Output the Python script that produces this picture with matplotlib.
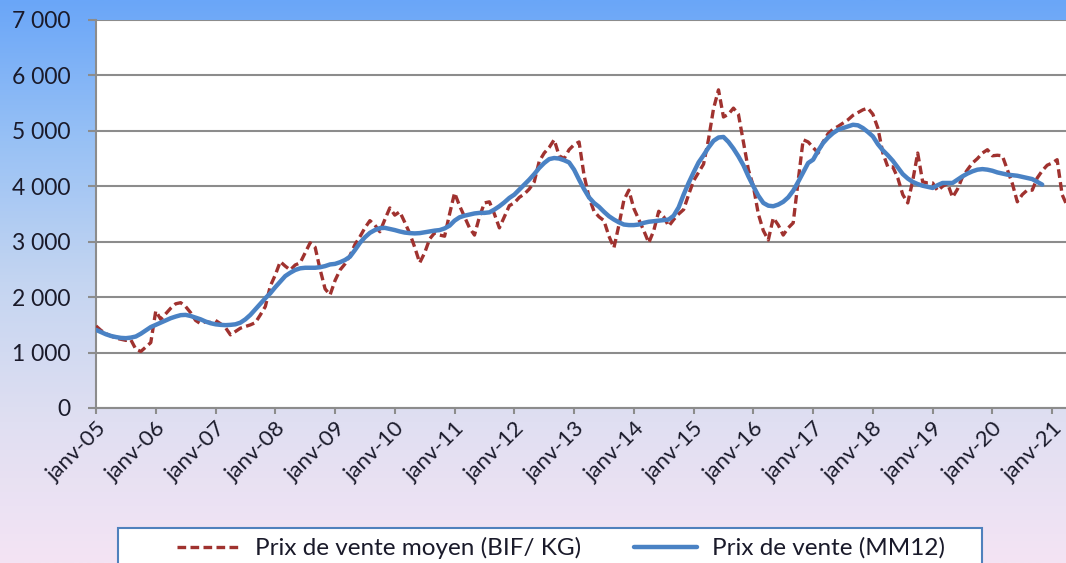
import numpy as np
import matplotlib
matplotlib.use("Agg")
import matplotlib.pyplot as plt
from matplotlib.colors import LinearSegmentedColormap
from matplotlib.patches import Rectangle
from matplotlib.ticker import FuncFormatter

plt.rcParams['font.family'] = ['Lato', 'DejaVu Sans']

# monthly average selling price (BIF/KG), janv-05 onward
prix_moyen = [
    1480, 1400, 1340, 1300, 1260, 1240, 1220, 1230, 1060, 1020, 1100, 1180,   # 2005
    1750, 1600, 1700, 1800, 1880, 1900, 1830, 1720, 1580, 1520, 1560, 1540,   # 2006
    1580, 1520, 1450, 1320, 1380, 1440, 1470, 1500, 1540, 1680, 1830, 2200,   # 2007
    2400, 2640, 2560, 2490, 2580, 2620, 2800, 2980, 2900, 2500, 2150, 2040,   # 2008
    2300, 2490, 2600, 2750, 2950, 3090, 3250, 3380, 3300, 3180, 3400, 3610,   # 2009
    3480, 3540, 3350, 3150, 2900, 2620, 2800, 3050, 3160, 3120, 3100, 3500,   # 2010
    3880, 3650, 3450, 3250, 3120, 3450, 3700, 3720, 3500, 3250, 3450, 3650,   # 2011
    3700, 3800, 3860, 3950, 4080, 4450, 4600, 4700, 4840, 4550, 4500, 4660,   # 2012
    4750, 4800, 4200, 3800, 3550, 3450, 3380, 3100, 2890, 3300, 3750, 3930,   # 2013
    3600, 3400, 3200, 2980, 3200, 3550, 3450, 3280, 3400, 3500, 3580, 3850,   # 2014
    4100, 4250, 4400, 4850, 5400, 5740, 5250, 5300, 5410, 5300, 4800, 4300,   # 2015
    4000, 3500, 3200, 3030, 3430, 3300, 3120, 3250, 3340, 4100, 4840, 4800,   # 2016
    4700, 4600, 4800, 4950, 5030, 5080, 5140, 5200, 5280, 5330, 5380, 5410,   # 2017
    5300, 5050, 4600, 4350, 4350, 4150, 3850, 3700, 4100, 4600, 4080, 4060,   # 2018
    4060, 3920, 4000, 4050, 3800, 3950, 4170, 4300, 4420, 4500, 4600, 4660,   # 2019
    4550, 4560, 4550, 4300, 4050, 3720, 3850, 3930, 3930, 4150, 4280, 4380,   # 2020
    4420, 4480, 3850, 3650,                                                   # 2021
]

# 12-month moving average
prix_mm12 = [
    1410, 1370, 1330, 1300, 1280, 1265, 1260, 1270, 1290, 1340, 1400, 1460,
    1500, 1540, 1580, 1620, 1650, 1675, 1680, 1660, 1630, 1600, 1560, 1530,
    1510, 1500, 1495, 1500, 1510, 1540, 1600, 1680, 1780, 1880, 1980, 2070,
    2180, 2280, 2380, 2440, 2490, 2520, 2530, 2530, 2530, 2540, 2560, 2590,
    2600, 2630, 2670, 2730, 2850, 2980, 3080, 3160, 3210, 3245, 3250, 3230,
    3210, 3185, 3165, 3155, 3150, 3155, 3170, 3185, 3200, 3210, 3240, 3290,
    3380, 3440, 3470, 3490, 3510, 3520, 3520, 3530, 3580, 3640, 3710, 3790,
    3850, 3940, 4030, 4120, 4220, 4330, 4420, 4490, 4510, 4500, 4470, 4430,
    4300, 4120, 3950, 3800, 3700, 3630, 3540, 3460, 3400, 3350, 3310, 3300,
    3300, 3310, 3340, 3360, 3370, 3380, 3390, 3400, 3470, 3620, 3850, 4060,
    4250, 4430, 4560, 4700, 4820, 4880, 4890, 4800, 4680, 4540, 4380, 4180,
    4000, 3830, 3700, 3650, 3640, 3670, 3720, 3800, 3920, 4080, 4250, 4420,
    4480, 4640, 4780, 4880, 4960, 5020, 5050, 5080, 5110, 5100, 5050, 4980,
    4900, 4760, 4650, 4560, 4460, 4340, 4220, 4140, 4080, 4040, 4010, 3990,
    3970, 4020, 4060, 4060, 4060, 4120, 4180, 4230, 4270, 4300, 4310, 4300,
    4280, 4250, 4230, 4210, 4200, 4190, 4170, 4150, 4130, 4080, 4030,
]

annees = ['janv-%02d' % a for a in range(5, 22)]

W, H = 1066, 563
fig = plt.figure(figsize=(W / 100, H / 100), dpi=100)

# background gradient (blue top -> lavender bottom)
bg = fig.add_axes([0, 0, 1, 1], zorder=-10)
cmap = LinearSegmentedColormap.from_list('fond', [
    (0.0, '#6aa6f8'), (0.25, '#98c1f5'), (0.5, '#c4d5f1'),
    (0.75, '#e0dff2'), (1.0, '#f4e4f4')])
bg.imshow(np.linspace(0, 1, 256).reshape(-1, 1), aspect='auto', cmap=cmap,
          extent=[0, 1, 0, 1], origin='upper')
bg.set_axis_off()

ax = fig.add_axes([96 / W, (H - 408) / H, (W - 96) / W, 388 / H])
ax.set_facecolor('white')

mois = np.arange(len(prix_moyen))
ax.plot(mois, prix_moyen, color='#a0322f', lw=2.4, ls=(0, (2.6, 1.3)),
        label='Prix de vente moyen (BIF/ KG)', zorder=3)
ax.plot(np.arange(len(prix_mm12)), prix_mm12, color='#4a82c4', lw=3.2,
        solid_capstyle='round', label='Prix de vente (MM12)', zorder=4)

ax.set_xlim(0, (W - 96) / 4.98)
ax.set_ylim(0, 7000)
ax.set_yticks(range(0, 7001, 1000))
ax.yaxis.set_major_formatter(FuncFormatter(lambda v, p: f'{int(v):,}'.replace(',', ' ')))
ax.set_xticks(np.arange(0, 12 * len(annees), 12))
ax.set_xticklabels(annees, rotation=45, ha='right', va='top', rotation_mode='anchor')

ax.grid(axis='y', color='#8c8c8c', lw=1.5)
ax.set_axisbelow(True)
for s in ['top', 'right']:
    ax.spines[s].set_visible(False)
for s in ['left', 'bottom']:
    ax.spines[s].set_color('#8c8c8c')
    ax.spines[s].set_linewidth(1.5)
ax.tick_params(axis='y', length=6, width=1.5, color='#8c8c8c', pad=12,
               labelsize=16.5, labelcolor='#1a1a2a')
ax.tick_params(axis='x', length=4, width=1.5, color='#8c8c8c', pad=3,
               labelsize=16, labelcolor='#1a1a2a')

# legend box
fig.patches.append(Rectangle((118 / W, -0.05), (982 - 118) / W, (563 - 528) / H + 0.05,
                             transform=fig.transFigure, facecolor='white',
                             edgecolor='#4f81bd', lw=1.5, zorder=5))
leg = fig.legend(loc='center', bbox_to_anchor=(561 / W, (563 - 548) / H), ncol=2,
                 frameon=False, fontsize=17.5, handlelength=2.6, handletextpad=0.6,
                 columnspacing=2.2, labelcolor='#1a1a2a')
leg.set_zorder(6)

fig.savefig('out.png', dpi=100)
